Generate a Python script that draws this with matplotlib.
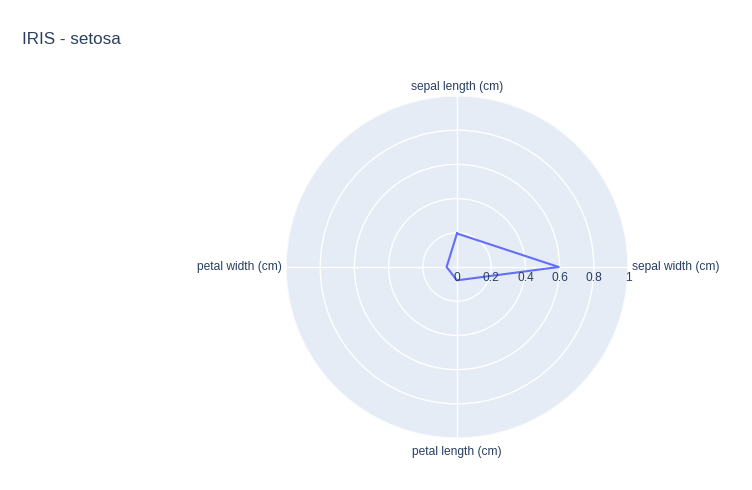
import numpy as np
import matplotlib
matplotlib.use("Agg")
import matplotlib.pyplot as plt
from matplotlib.transforms import offset_copy

plt.rcParams["font.family"] = ["Liberation Sans", "DejaVu Sans"]

categories = ["sepal length (cm)", "sepal width (cm)", "petal length (cm)", "petal width (cm)"]
values = [0.196, 0.595, 0.078, 0.061]
rticks = [0, 0.2, 0.4, 0.6, 0.8, 1]
rtick_labels = ["0", "0.2", "0.4", "0.6", "0.8", "1"]
title = "IRIS - setosa"

BG = "#E5ECF6"
LINE = "#636EFA"
TXT = "#2a3f5f"

fig = plt.figure(figsize=(7.52, 4.9), dpi=100)
ax = fig.add_axes([286/752, 52/490, 342/752, 342/490], projection="polar")
ax.set_facecolor(BG)
ax.set_theta_zero_location("N")
ax.set_theta_direction(-1)
ax.set_ylim(0, 1)
ax.spines["polar"].set_visible(False)

n = len(categories)
angles = np.arange(n) * 2 * np.pi / n
ax.set_xticks(angles)
ax.set_xticklabels([])
ax.set_yticks(rticks)
ax.set_yticklabels([])
ax.grid(True, color="white", linewidth=1.0)
ax.tick_params(length=0)

th = np.concatenate([angles, angles[:1]])
vv = np.concatenate([values, values[:1]])
ax.plot(th, vv, color=LINE, linewidth=1.5, zorder=3, clip_on=False)

fs_tick = 8.64
# angular labels
ax.text(angles[0], 1, categories[0], transform=offset_copy(ax.transData, fig=fig, x=0, y=2.5, units="points"),
        ha="center", va="bottom", fontsize=fs_tick, color=TXT)
ax.text(angles[1], 1, categories[1], transform=offset_copy(ax.transData, fig=fig, x=3, y=0, units="points"),
        ha="left", va="center", fontsize=fs_tick, color=TXT)
ax.text(angles[2], 1, categories[2], transform=offset_copy(ax.transData, fig=fig, x=0, y=-6, units="points"),
        ha="center", va="top", fontsize=fs_tick, color=TXT)
ax.text(angles[3], 1, categories[3], transform=offset_copy(ax.transData, fig=fig, x=-3, y=0, units="points"),
        ha="right", va="center", fontsize=fs_tick, color=TXT)

# radial tick labels
for r, lab in zip(rticks, rtick_labels):
    ax.text(np.pi/2, r, lab, transform=offset_copy(ax.transData, fig=fig, x=0, y=-3.5, units="points"),
            ha="center", va="top", fontsize=fs_tick, color=TXT, zorder=4)

fig.text(22/752, 1 - 39/490, title, ha="left", va="center", fontsize=12.24, color=TXT)

fig.savefig("out.png", dpi=100, facecolor="white")
